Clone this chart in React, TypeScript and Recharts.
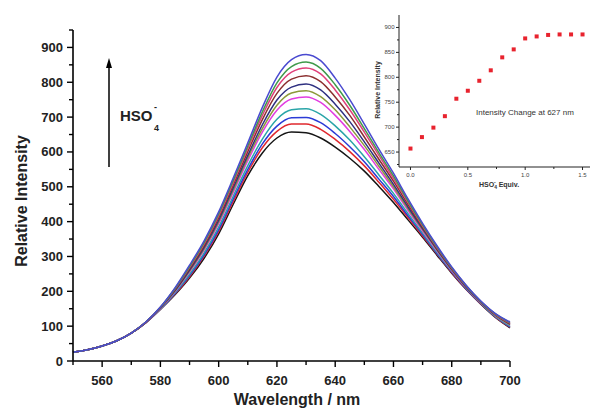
import React from 'react';
import { LineChart, Line, XAxis, YAxis, ScatterChart, Scatter } from 'recharts';

const wavelengths = [
  550, 555, 560, 565, 570, 575, 580, 585, 590, 595, 600, 605, 610, 615, 620, 625,
  630, 635, 640, 645, 650, 655, 660, 665, 670, 675, 680, 685, 690, 695, 700,
];

// emission spectra, lowest to highest HSO4- amount
const black = [25, 32, 43, 58, 80, 110, 148, 190, 238, 295, 365, 450, 532, 597, 640, 657, 655, 640, 614, 582, 545, 501, 455, 405, 355, 303, 252, 205, 163, 125, 95];
const red = [25, 32, 43, 58, 80, 110, 149, 192, 242, 301, 372, 458, 542, 612, 659, 680, 680, 665, 636, 601, 560, 513, 464, 412, 359, 306, 254, 206, 164, 126, 97];
const blue2 = [25, 32, 43, 58, 80, 110, 149, 194, 245, 305, 377, 465, 550, 623, 674, 698, 699, 684, 653, 615, 572, 522, 472, 417, 363, 308, 256, 207, 165, 127, 98];
const teal = [25, 32, 43, 58, 80, 111, 150, 196, 249, 310, 384, 473, 561, 637, 694, 721, 724, 708, 675, 634, 586, 534, 481, 423, 367, 311, 258, 209, 166, 128, 100];
const magenta = [25, 32, 43, 58, 80, 111, 151, 199, 255, 318, 394, 484, 575, 657, 720, 752, 758, 742, 705, 659, 607, 550, 494, 432, 373, 315, 260, 210, 167, 130, 103];
const olive = [25, 32, 43, 58, 80, 111, 152, 201, 258, 322, 399, 490, 583, 667, 734, 769, 776, 759, 721, 672, 618, 559, 500, 437, 377, 318, 262, 211, 168, 131, 104];
const navy = [25, 32, 43, 58, 80, 111, 152, 202, 261, 326, 404, 497, 590, 678, 749, 786, 795, 778, 737, 687, 629, 568, 507, 442, 380, 320, 263, 212, 169, 132, 106];
const wine = [25, 32, 43, 58, 80, 111, 153, 205, 265, 331, 411, 505, 601, 693, 768, 809, 819, 802, 758, 705, 643, 579, 516, 449, 384, 323, 265, 214, 170, 133, 107];
const pink = [25, 32, 43, 58, 80, 112, 154, 207, 269, 336, 417, 512, 610, 705, 785, 829, 841, 824, 778, 721, 657, 590, 524, 455, 388, 325, 267, 215, 170, 134, 109];
const green = [25, 32, 43, 58, 80, 112, 154, 208, 271, 340, 422, 518, 617, 715, 798, 845, 858, 840, 793, 734, 667, 598, 531, 459, 391, 327, 268, 216, 171, 135, 110];
const blue = [25, 32, 43, 58, 80, 112, 155, 210, 275, 345, 428, 525, 626, 728, 815, 865, 880, 862, 812, 750, 680, 608, 539, 465, 395, 330, 270, 217, 172, 136, 112];

const xTicks = [550, 560, 570, 580, 590, 600, 610, 620, 630, 640, 650, 660, 670, 680, 690, 700];
const yTicks = [0, 50, 100, 150, 200, 250, 300, 350, 400, 450, 500, 550, 600, 650, 700, 750, 800, 850, 900, 950];

// inset: intensity at 627 nm vs equivalents
const equiv = [0, 0.1, 0.2, 0.3, 0.4, 0.5, 0.6, 0.7, 0.8, 0.9, 1.0, 1.1, 1.2, 1.3, 1.4, 1.5];
const intensity627 = [657, 680, 699, 722, 757, 773, 793, 814, 840, 856, 878, 882, 885, 886, 886, 886];
const insetXTicks = [0, 0.25, 0.5, 0.75, 1, 1.25, 1.5];
const insetYTicks = [625, 650, 675, 700, 725, 750, 775, 800, 825, 850, 875, 900];

const series = [
  { key: 'black', values: black, color: '#151515' },
  { key: 'red', values: red, color: '#e0282e' },
  { key: 'blue2', values: blue2, color: '#2b3bd6' },
  { key: 'teal', values: teal, color: '#2aa5a8' },
  { key: 'magenta', values: magenta, color: '#e23de0' },
  { key: 'olive', values: olive, color: '#8c9a3a' },
  { key: 'navy', values: navy, color: '#2e2f80' },
  { key: 'wine', values: wine, color: '#8b2e2e' },
  { key: 'pink', values: pink, color: '#e0407a' },
  { key: 'green', values: green, color: '#3f9a4a' },
  { key: 'blue', values: blue, color: '#4a4ad0' },
];

const rows = wavelengths.map((w, i) => {
  const row: { [k: string]: number } = { w };
  series.forEach((s) => {
    row[s.key] = s.values[i];
  });
  return row;
});

const insetRows = equiv.map((x, i) => ({ x, y: intensity627[i] }));

const FONT = '"Liberation Sans", Arial, sans-serif';

const MainXTick = (props: any) => {
  const { x, y, payload } = props;
  const v = payload.value;
  const major = (v - 560) % 20 === 0;
  return (
    <g>
      <line x1={x} x2={x} y1={y} y2={y + (major ? 6 : 4)} stroke="#000" strokeWidth={1.4} />
      {major && (
        <text x={x} y={y + 24} textAnchor="middle" fontFamily={FONT} fontWeight="bold" fontSize={13} fill="#222">
          {v}
        </text>
      )}
    </g>
  );
};

const MainYTick = (props: any) => {
  const { x, y, payload } = props;
  const v = payload.value;
  const major = v % 100 === 0;
  return (
    <g>
      <line x1={x - (major ? 6 : 4)} x2={x} y1={y} y2={y} stroke="#000" strokeWidth={1.4} />
      {major && (
        <text x={x - 10} y={y + 4.5} textAnchor="end" fontFamily={FONT} fontWeight="bold" fontSize={13} fill="#222">
          {v}
        </text>
      )}
    </g>
  );
};

const InsetXTick = (props: any) => {
  const { x, y, payload } = props;
  const v = payload.value;
  const major = Math.abs(v * 2 - Math.round(v * 2)) < 1e-6;
  return (
    <g>
      <line x1={x} x2={x} y1={y} y2={y + (major ? 3 : 2)} stroke="#222" strokeWidth={1} />
      {major && (
        <text x={x} y={y + 10} textAnchor="middle" fontFamily={FONT} fontSize={6} fill="#444">
          {v.toFixed(1)}
        </text>
      )}
    </g>
  );
};

const InsetYTick = (props: any) => {
  const { x, y, payload } = props;
  const v = payload.value;
  const major = v % 50 === 0;
  return (
    <g>
      <line x1={x - (major ? 3 : 2)} x2={x} y1={y} y2={y} stroke="#222" strokeWidth={1} />
      {major && (
        <text x={x - 4.5} y={y + 2} textAnchor="end" fontFamily={FONT} fontSize={6} fill="#444">
          {v}
        </text>
      )}
    </g>
  );
};

const Square = (props: any) => {
  const { cx, cy } = props;
  return <rect x={cx - 2} y={cy - 2} width={4} height={4} fill="#e8232e" />;
};

export default function App() {
  return (
    <div
      style={{
        position: 'absolute',
        left: 0,
        top: 0,
        width: 590,
        height: 408,
        overflow: 'hidden',
        background: '#fff',
      }}
    >
      <LineChart width={590} height={408} data={rows} margin={{ top: 30, right: 80, left: 28, bottom: 7 }}>
        <XAxis
          dataKey="w"
          type="number"
          domain={[550, 700]}
          ticks={xTicks}
          interval={0}
          height={40}
          tickLine={false}
          tickSize={0}
          tickMargin={0}
          axisLine={{ stroke: '#000', strokeWidth: 1.6 }}
          tick={(p: any) => <MainXTick {...p} />}
        />
        <YAxis
          type="number"
          domain={[0, 950]}
          ticks={yTicks}
          interval={0}
          width={45}
          tickLine={false}
          tickSize={0}
          tickMargin={0}
          axisLine={{ stroke: '#000', strokeWidth: 1.6 }}
          tick={(p: any) => <MainYTick {...p} />}
        />
        {series.map((s) => (
          <Line
            key={s.key}
            dataKey={s.key}
            type="monotone"
            stroke={s.color}
            strokeWidth={1.5}
            dot={false}
            isAnimationActive={false}
          />
        ))}
      </LineChart>

      <div style={{ position: 'absolute', left: 350, top: 0 }}>
        <ScatterChart width={244} height={200} margin={{ top: 15, right: 0, left: 24, bottom: 8 }}>
          <XAxis
            dataKey="x"
            type="number"
            domain={[-0.1, 1.6]}
            ticks={insetXTicks}
            interval={0}
            height={25}
            tickLine={false}
            tickSize={0}
            tickMargin={0}
            axisLine={{ stroke: '#222', strokeWidth: 1 }}
            tick={(p: any) => <InsetXTick {...p} />}
          />
          <YAxis
            dataKey="y"
            type="number"
            domain={[620, 925]}
            ticks={insetYTicks}
            interval={0}
            width={25}
            tickLine={false}
            tickSize={0}
            tickMargin={0}
            axisLine={{ stroke: '#222', strokeWidth: 1 }}
            tick={(p: any) => <InsetYTick {...p} />}
          />
          <Scatter data={insetRows} shape={(p: any) => <Square {...p} />} isAnimationActive={false} />
        </ScatterChart>
      </div>

      <svg
        width={590}
        height={408}
        style={{ position: 'absolute', left: 0, top: 0, pointerEvents: 'none' }}
        fontFamily={FONT}
      >
        <text
          x={27}
          y={201}
          transform="rotate(-90 27 201)"
          textAnchor="middle"
          fontSize={16}
          fontWeight="bold"
          fill="#222"
        >
          Relative Intensity
        </text>
        <text x={297} y={405} textAnchor="middle" fontSize={16} fontWeight="bold" fill="#222">
          Wavelength / nm
        </text>

        <line x1={109} x2={109} y1={167} y2={66} stroke="#000" strokeWidth={1.5} />
        <polygon points="109,58 106,68 112,68" fill="#000" />
        <text x={120} y={121} fontSize={15} fontWeight="bold" fill="#222">
          HSO
        </text>
        <text x={154} y={131} fontSize={9} fontWeight="bold" fill="#222">
          4
        </text>
        <text x={154} y={110} fontSize={9} fontWeight="bold" fill="#222">
          -
        </text>

        <text
          x={380}
          y={90}
          transform="rotate(-90 380 90)"
          textAnchor="middle"
          fontSize={7}
          fontWeight="bold"
          fill="#333"
        >
          Relative Intensity
        </text>
        <text x={479} y={187} fontSize={7} fontWeight="bold" fill="#333">
          HSO
          <tspan fontSize={5} dy={2}>4</tspan>
          <tspan fontSize={5} dy={-5} dx={-3}>-</tspan>
          <tspan dy={3} dx={3}>Equiv.</tspan>
        </text>
        <text x={476} y={115} fontSize={8} fill="#333">
          Intensity Change at 627 nm
        </text>
      </svg>
    </div>
  );
}
